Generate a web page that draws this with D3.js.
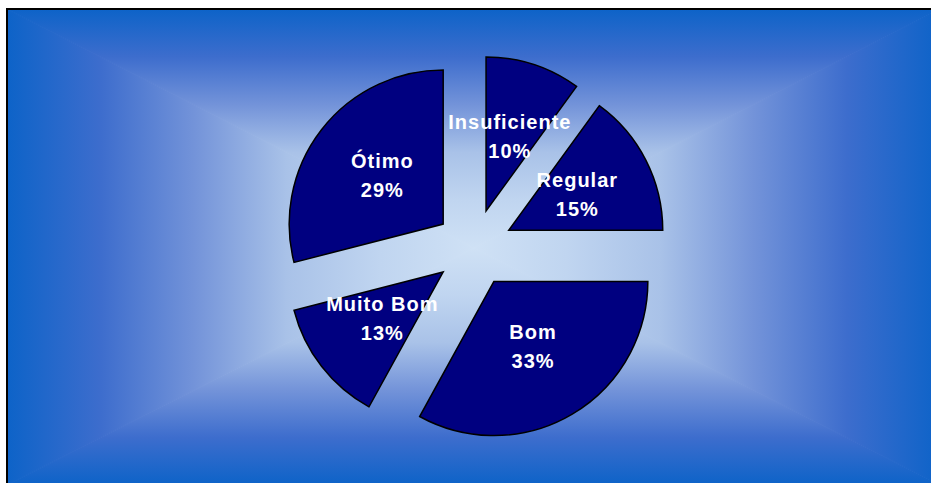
<!DOCTYPE html>
<html>
<head>
<meta charset="utf-8">
<script src="https://cdn.jsdelivr.net/npm/d3@7"></script>
<style>
  html, body { margin: 0; padding: 0; background: #ffffff; }
  svg { display: block; }
  .lbl { font-family: "Liberation Sans", Arial, sans-serif; font-weight: bold; font-size: 20px; fill: #ffffff; letter-spacing: 1px; }
</style>
</head>
<body>
<svg id="chart" width="931" height="483"></svg>
<script>
// Evaluation categories, clockwise from 12 o'clock
const categories = ["Insuficiente", "Regular", "Bom", "Muito Bom", "Ótimo"];
// Share of answers per category (%)
const values = [10, 15, 33, 13, 29];

const W = 931, H = 483;
const svg = d3.select("#chart");
const defs = svg.append("defs");

// Plot frame (right and bottom edges run past the window)
const fx0 = 7, fy0 = 9, fx1 = 940, fy1 = 485;
const cx = 474, cy = 248;

// Rectangular "from centre" gradient built from four triangles
const stops = [
  [0.00, "#cfe1f5"],
  [0.20, "#c0d5f0"],
  [0.40, "#a9c2e8"],
  [0.60, "#7393d9"],
  [0.80, "#3d6dcd"],
  [1.00, "#0d63c8"]
];
const sides = [
  { id: "gTop",    pts: [[fx0, fy0], [fx1, fy0], [cx, cy]], to: [cx, fy0] },
  { id: "gBottom", pts: [[fx0, fy1], [fx1, fy1], [cx, cy]], to: [cx, fy1] },
  { id: "gLeft",   pts: [[fx0, fy0], [fx0, fy1], [cx, cy]], to: [fx0, cy] },
  { id: "gRight",  pts: [[fx1, fy0], [fx1, fy1], [cx, cy]], to: [fx1, cy] }
];
sides.forEach(s => {
  const g = defs.append("linearGradient")
    .attr("id", s.id)
    .attr("gradientUnits", "userSpaceOnUse")
    .attr("x1", cx).attr("y1", cy)
    .attr("x2", s.to[0]).attr("y2", s.to[1]);
  stops.forEach(([o, c]) => g.append("stop").attr("offset", o).attr("stop-color", c));
});

const bg = svg.append("g");
sides.forEach(s => {
  bg.append("path")
    .attr("d", "M" + s.pts.map(p => p.join(",")).join("L") + "Z")
    .attr("fill", `url(#${s.id})`)
    .attr("stroke", `url(#${s.id})`)
    .attr("stroke-width", 1);
});
svg.append("rect")
  .attr("x", fx0).attr("y", fy0)
  .attr("width", fx1 - fx0).attr("height", fy1 - fy0)
  .attr("fill", "none")
  .attr("stroke", "#000000")
  .attr("stroke-width", 2);

// Exploded pie
const radius = 154;
const explode = 39;
const labelDist = explode + 77;

const pie = d3.pie().sort(null).value(d => d.value);
const arcs = pie(categories.map((c, i) => ({ name: c, value: values[i] })));
const arc = d3.arc().innerRadius(0).outerRadius(radius);

const pieG = svg.append("g").attr("transform", `translate(${cx},${cy})`);

arcs.forEach(a => {
  const mid = (a.startAngle + a.endAngle) / 2;
  const dx = Math.sin(mid) * explode, dy = -Math.cos(mid) * explode;
  pieG.append("path")
    .attr("d", arc(a))
    .attr("transform", `translate(${dx},${dy})`)
    .attr("fill", "#000080")
    .attr("stroke", "#000000")
    .attr("stroke-width", 1.5)
    .attr("stroke-linejoin", "miter");
});

arcs.forEach(a => {
  const mid = (a.startAngle + a.endAngle) / 2;
  const lx = Math.sin(mid) * labelDist, ly = -Math.cos(mid) * labelDist;
  const t = pieG.append("text")
    .attr("class", "lbl")
    .attr("text-anchor", "middle")
    .attr("x", lx).attr("y", ly);
  t.append("tspan").attr("x", lx).attr("y", ly - 8.5).text(a.data.name);
  t.append("tspan").attr("x", lx).attr("y", ly + 20.5).text(a.data.value + "%");
});
</script>
</body>
</html>
